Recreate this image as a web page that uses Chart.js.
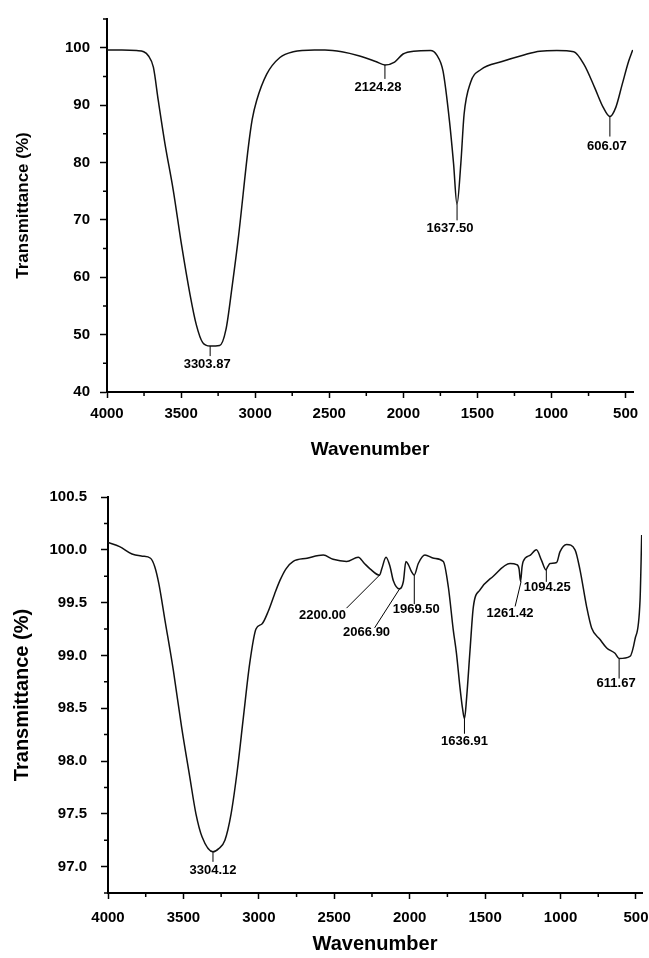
<!DOCTYPE html>
<html>
<head>
<meta charset="utf-8">
<script src="https://cdn.jsdelivr.net/npm/chart.js@4.4.1/dist/chart.umd.min.js"></script>
<style>
  body { margin: 0; background: #fff; }
  .box { position: absolute; left: 0; }
</style>
</head>
<body>
<div class="box" style="top:0"><canvas id="topChart" width="649" height="470"></canvas></div>
<div class="box" style="top:470px"><canvas id="botChart" width="649" height="488"></canvas></div>
<script>
// Top spectrum
const topWn = [4000, 3900, 3800, 3752, 3721, 3687, 3654, 3609, 3553, 3496, 3439, 3397, 3354, 3304, 3240, 3197, 3155, 3112, 3047, 3020, 2990, 2922, 2833, 2743, 2600, 2529, 2415, 2301, 2187, 2124, 2059, 2002, 1931, 1817, 1774, 1732, 1689, 1661, 1638, 1612, 1590, 1547, 1476, 1334, 1192, 1078, 964, 850, 779, 708, 651, 606, 566, 523, 480, 452];
const topT = [99.6, 99.6, 99.5, 99.3, 98.6, 96.6, 90.8, 83.3, 75.2, 65.5, 56.9, 51.7, 48.6, 48.0, 48.1, 50.9, 58.5, 67.2, 82.5, 87.5, 90.8, 95.4, 98.3, 99.3, 99.6, 99.6, 99.3, 98.6, 97.6, 97.0, 97.5, 98.9, 99.4, 99.5, 98.7, 95.9, 87.3, 79.8, 72.7, 79.8, 88.4, 93.9, 96.2, 97.6, 98.7, 99.4, 99.5, 99.3, 97.0, 93.0, 89.6, 88.0, 89.6, 93.6, 97.6, 99.6];
const topPeakWn = [3303.87, 2124.28, 1637.50, 606.07];
const topPeakT = [48.0, 97.0, 72.7, 88.0];
const topYTicks = [40, 50, 60, 70, 80, 90, 100];
const topYMinor = [45, 55, 65, 75, 85, 95, 105];

// Bottom spectrum
const botWn = [4000, 3923, 3841, 3773, 3718, 3690, 3663, 3622, 3567, 3512, 3458, 3417, 3376, 3304, 3266, 3225, 3184, 3143, 3102, 3061, 3019, 2978, 2937, 2896, 2860, 2820, 2772, 2680, 2573, 2508, 2418, 2341, 2300, 2263, 2200, 2185, 2157, 2130, 2109, 2067, 2042, 2025, 2009, 1987, 1970, 1943, 1899, 1840, 1777, 1744, 1711, 1690, 1667, 1650, 1637, 1622, 1600, 1578, 1534, 1446, 1335, 1291, 1275, 1265, 1255, 1248, 1200, 1160, 1126, 1097, 1085, 1070, 1026, 1004, 960, 904, 871, 827, 794, 738, 694, 639, 612, 540, 507, 473, 462];
const botT = [100.07, 100.03, 99.96, 99.94, 99.92, 99.84, 99.68, 99.33, 98.86, 98.32, 97.85, 97.50, 97.28, 97.14, 97.17, 97.25, 97.50, 97.91, 98.42, 98.92, 99.25, 99.30, 99.42, 99.58, 99.71, 99.82, 99.89, 99.92, 99.95, 99.91, 99.89, 99.93, 99.87, 99.82, 99.76, 99.82, 99.93, 99.84, 99.71, 99.63, 99.70, 99.89, 99.86, 99.79, 99.76, 99.87, 99.95, 99.92, 99.89, 99.65, 99.24, 99.02, 98.70, 98.50, 98.40, 98.61, 99.05, 99.46, 99.62, 99.75, 99.87, 99.86, 99.82, 99.70, 99.84, 99.89, 99.95, 100.00, 99.90, 99.81, 99.84, 99.87, 99.88, 99.98, 100.05, 100.00, 99.81, 99.46, 99.26, 99.15, 99.07, 99.02, 98.97, 98.99, 99.15, 99.52, 100.14];
const botPeakWn = [3304.12, 2200.00, 2066.90, 1969.50, 1636.91, 1261.42, 1094.25, 611.67];
const botPeakT = [97.14, 99.76, 99.63, 99.76, 98.40, 99.70, 99.81, 98.97];
const botYTicks = [97.0, 97.5, 98.0, 98.5, 99.0, 99.5, 100.0, 100.5];
const botYMinor = [96.75, 97.25, 97.75, 98.25, 98.75, 99.25, 99.75, 100.25];

const xTicks = [4000, 3500, 3000, 2500, 2000, 1500, 1000, 500];
const xMinor = [3750, 3250, 2750, 2250, 1750, 1250, 750];

Chart.defaults.font.family = "'Liberation Sans', Arial, sans-serif";
Chart.defaults.color = '#000';

const tickList = values => values.slice().sort((a, b) => a - b).map(v => ({ value: v }));

// short ticks between the labelled ones
const minorTicks = {
    id: 'minorTicks',
    afterDraw(chart, args, opts) {
        const { ctx, scales: { x, y } } = chart;
        ctx.save();
        ctx.strokeStyle = '#000';
        ctx.lineWidth = 1.5;
        ctx.beginPath();
        xMinor.forEach(v => {
            const px = x.getPixelForValue(v);
            ctx.moveTo(px, x.top);
            ctx.lineTo(px, x.top + 4);
        });
        opts.yMinor.forEach(v => {
            const py = y.getPixelForValue(v);
            ctx.moveTo(y.right, py);
            ctx.lineTo(y.right - 4, py);
        });
        ctx.stroke();
        ctx.restore();
    }
};

// peak labels with leader lines
const peakLabels = {
    id: 'peakLabels',
    afterDatasetsDraw(chart, args, opts) {
        const { ctx, scales: { x, y } } = chart;
        ctx.save();
        ctx.strokeStyle = '#000';
        ctx.fillStyle = '#000';
        ctx.lineWidth = 1;
        ctx.font = opts.font;
        ctx.textAlign = 'center';
        ctx.textBaseline = 'middle';
        opts.wn.forEach((w, i) => {
            const px = x.getPixelForValue(w);
            const py = y.getPixelForValue(opts.t[i]);
            const o = opts.offsets[i];
            ctx.beginPath();
            ctx.moveTo(px, py);
            ctx.lineTo(px + o[0], py + o[1]);
            ctx.stroke();
            ctx.fillText(w.toFixed(2), px + o[2], py + o[3]);
        });
        ctx.restore();
    }
};

function makeChart(id, wn, t, cfg) {
    const canvas = document.getElementById(id);
    return new Chart(canvas.getContext('2d'), {
        type: 'line',
        data: {
            datasets: [{
                data: wn.map((w, i) => ({ x: w, y: t[i] })),
                borderColor: '#111',
                borderWidth: 1.5,
                pointRadius: 0,
                cubicInterpolationMode: 'monotone',
                fill: false
            }]
        },
        plugins: [minorTicks, peakLabels],
        options: {
            responsive: false,
            animation: false,
            layout: { padding: cfg.padding },
            plugins: {
                legend: { display: false },
                tooltip: { enabled: false },
                minorTicks: { yMinor: cfg.yMinor },
                peakLabels: cfg.peaks
            },
            scales: {
                x: {
                    type: 'linear',
                    reverse: true,
                    min: cfg.xMin,
                    max: 4000,
                    afterBuildTicks: s => { s.ticks = tickList(xTicks); },
                    afterFit: s => { s.height = cfg.xHeight; },
                    border: { display: true, color: '#000', width: 2 },
                    grid: { drawOnChartArea: false, tickLength: 6, tickWidth: 1.5, tickColor: '#000' },
                    ticks: {
                        autoSkip: false,
                        maxRotation: 0,
                        padding: cfg.xPad,
                        font: { size: 15, weight: 'bold' },
                        callback: v => String(v)
                    },
                    title: {
                        display: true,
                        text: 'Wavenumber',
                        font: { size: cfg.xTitleSize, weight: 'bold' },
                        padding: { top: 0, bottom: cfg.xTitlePad }
                    }
                },
                y: {
                    min: cfg.yMin,
                    max: cfg.yMax,
                    afterBuildTicks: s => { s.ticks = tickList(cfg.yMajor); },
                    afterFit: s => { s.width = cfg.yWidth; },
                    border: { display: true, color: '#000', width: 2 },
                    grid: { drawOnChartArea: false, tickLength: 7, tickWidth: 1.5, tickColor: '#000' },
                    ticks: {
                        autoSkip: false,
                        padding: cfg.yPad,
                        font: { size: 15, weight: 'bold' },
                        callback: v => v.toFixed(cfg.yDigits)
                    },
                    title: {
                        display: true,
                        text: 'Transmittance (%)',
                        font: { size: cfg.yTitleSize, weight: 'bold' },
                        padding: { top: cfg.yTitlePad, bottom: 0 }
                    }
                }
            }
        }
    });
}

makeChart('topChart', topWn, topT, {
    padding: { left: 0, top: 14, right: 16, bottom: 0 },
    xMin: 450, xHeight: 78, xPad: 7, xTitleSize: 19, xTitlePad: 9,
    yMin: 40, yMax: 105, yMajor: topYTicks, yMinor: topYMinor, yDigits: 0,
    yWidth: 107, yPad: 10, yTitleSize: 17, yTitlePad: 13,
    peaks: {
        wn: topPeakWn, t: topPeakT,
        font: "bold 13px 'Liberation Sans', Arial, sans-serif",
        offsets: [[0, 10, -3, 18], [0, 14, -7, 23], [0, 16, -7, 24], [0, 20, -3, 30]]
    }
});

makeChart('botChart', botWn, botT, {
    padding: { left: 0, top: 27, right: 7, bottom: 0 },
    xMin: 460, xHeight: 65, xPad: 10, xTitleSize: 20, xTitlePad: 2,
    yMin: 96.75, yMax: 100.5, yMajor: botYTicks, yMinor: botYMinor, yDigits: 1,
    yWidth: 108, yPad: 14, yTitleSize: 20, yTitlePad: 10,
    peaks: {
        wn: botPeakWn, t: botPeakT,
        font: "bold 13px 'Liberation Sans', Arial, sans-serif",
        offsets: [[0, 10, 0, 19], [-33, 33, -57, 40], [-25, 39, -33, 44], [0, 29, 2, 34],
                  [0, 15, 0, 23], [-6, 25, -11, 32], [0, 12, 1, 18], [0, 20, -3, 25]]
    }
});
</script>
</body>
</html>
